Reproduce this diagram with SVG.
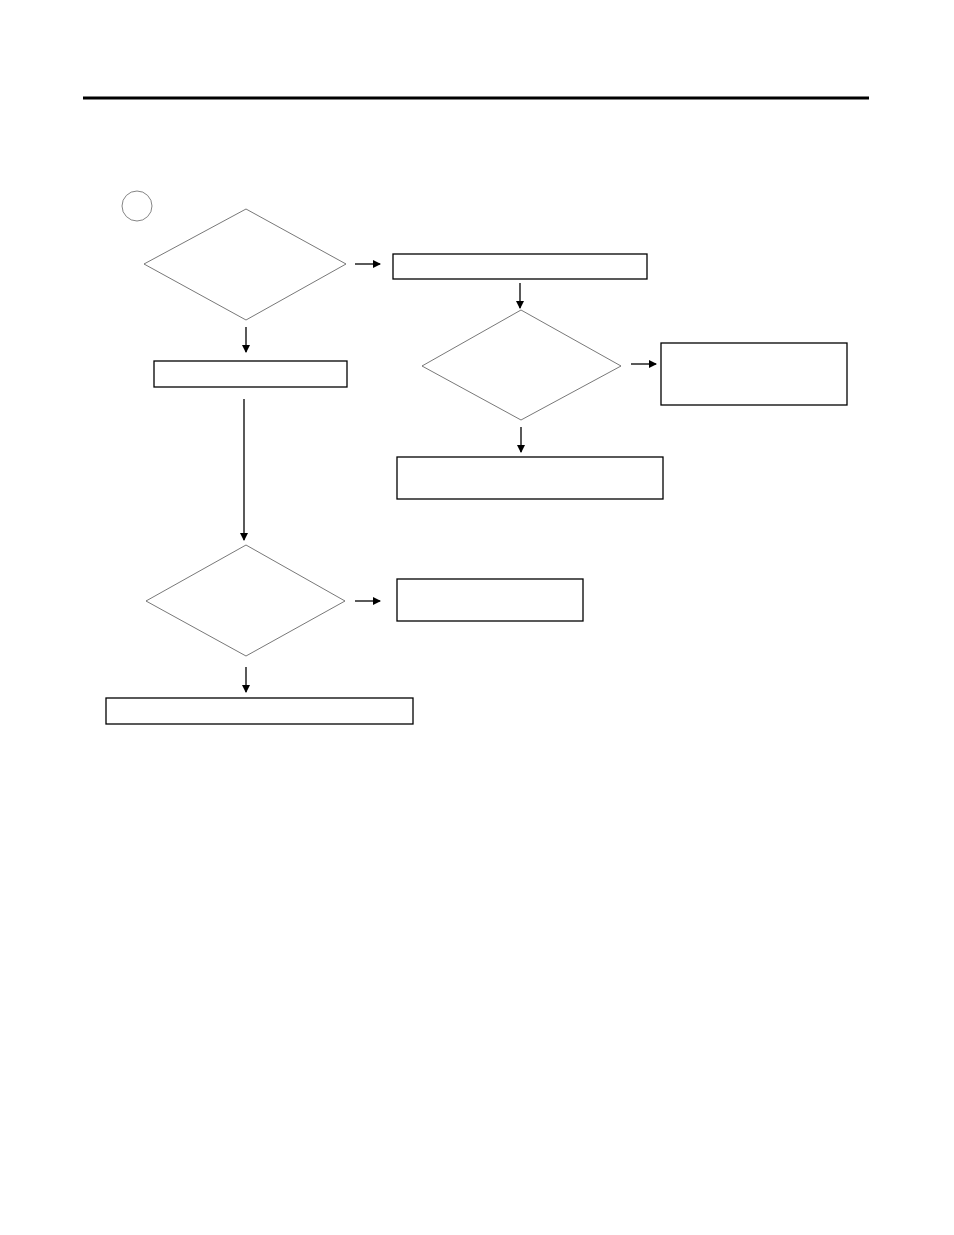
<svg xmlns="http://www.w3.org/2000/svg" width="954" height="1235" viewBox="0 0 954 1235">
<style>
.d{fill:none;stroke:#555;stroke-width:0.8}
.b{fill:none;stroke:#000;stroke-width:1.3}
.c{stroke:#000;stroke-width:1.3;fill:none}
</style>
<defs><marker id="a" markerWidth="8" markerHeight="8" refX="7" refY="4" orient="auto" markerUnits="userSpaceOnUse"><path d="M0,0L8,4L0,8Z" fill="#000"/></marker></defs>
<rect width="954" height="1235" fill="#fff"/>
<line x1="83" y1="98" x2="869" y2="98" stroke="#000" stroke-width="3"/>
<circle cx="137" cy="206" r="15" fill="none" stroke="#666" stroke-width="0.8"/>
<g id="n1"><polygon class="d" points="144,264 246,209 346,264 246,320"/></g>
<g id="n2"><rect class="b" x="393" y="254" width="254" height="25"/></g>
<g id="n3"><rect class="b" x="154" y="361" width="193" height="26"/></g>
<g id="n4"><polygon class="d" points="422,366 521,310 621,366 521,420"/></g>
<g id="n5"><rect class="b" x="661" y="343" width="186" height="62"/></g>
<g id="n6"><rect class="b" x="397" y="457" width="266" height="42"/></g>
<g id="n7"><polygon class="d" points="146,601 246,545 345,601 246,656"/></g>
<g id="n8"><rect class="b" x="397" y="579" width="186" height="42"/></g>
<g id="n9"><rect class="b" x="106" y="698" width="307" height="26"/></g>
<g id="connectors">
<line class="c" x1="355" y1="264" x2="380" y2="264" marker-end="url(#a)"/>
<line class="c" x1="246" y1="327" x2="246" y2="352" marker-end="url(#a)"/>
<line class="c" x1="520" y1="283" x2="520" y2="308" marker-end="url(#a)"/>
<line class="c" x1="631" y1="364" x2="656" y2="364" marker-end="url(#a)"/>
<line class="c" x1="521" y1="427" x2="521" y2="452" marker-end="url(#a)"/>
<line class="c" x1="244" y1="399" x2="244" y2="540" marker-end="url(#a)"/>
<line class="c" x1="355" y1="601" x2="380" y2="601" marker-end="url(#a)"/>
<line class="c" x1="246" y1="667" x2="246" y2="692" marker-end="url(#a)"/>
</g>
</svg>
